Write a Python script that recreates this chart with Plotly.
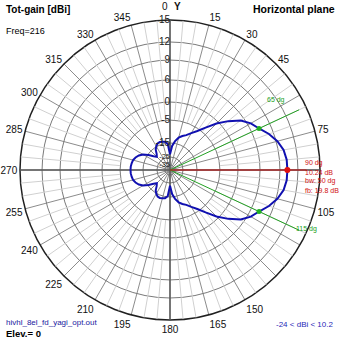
import numpy as np
import plotly.graph_objects as go

# ---------------- data ----------------
ANGLES_DEG = list(range(0, 360, 5))
GAIN_DBI = [
    -23.0, -17.0, -14.0, -12.2, -11.0, -10.0, -8.2, -6.0, -3.5, -0.6,
    2.2, 5.0, 6.5, 7.24, 8.3, 9.2, 9.9, 10.2, 10.24, 10.2,
    9.9, 9.2, 8.3, 7.24, 6.5, 5.0, 2.2, -0.6, -3.5, -6.0,
    -8.2, -10.0, -11.0, -12.2, -14.0, -17.0, -23.0, -15.5, -14.3, -14.0,
    -13.8, -14.0, -14.8, -16.5, -19.5, -21.0, -19.0, -15.5, -13.2, -11.8,
    -10.8, -10.1, -9.8, -9.6, -9.56, -9.6, -9.8, -10.1, -10.8, -11.8,
    -13.2, -15.5, -19.0, -21.0, -19.5, -16.5, -14.8, -14.0, -13.8, -14.0,
    -14.3, -15.5,
]
MAX_ANGLE = 90
MAX_GAIN = 10.24
BW_ANGLES = [65, 115]
BW_GAIN = 7.24

# radial scale of the chart (dBi -> relative radius), as drawn by the program
SCALE_DB = [-45, -35, -25, -15, -5, 0, 6, 9, 12, 15]
SCALE_REL = [0.0, 0.033, 0.087, 0.18, 0.333, 0.453, 0.6, 0.733, 0.853, 1.0]
RADIAL_TICKS = [15, 12, 9, 6, 0, -5, -15, -25, -35]

ANGLE_TICKS = list(range(0, 360, 15))
HIDDEN_ANGLE_LABELS = [0, 60, 90, 120, 135]
MINOR_SPOKES = [a for a in range(0, 360, 5) if a % 15 != 0]

RMAX = 150.0


def to_r(db):
    return np.interp(np.asarray(db, dtype=float), SCALE_DB, SCALE_REL) * RMAX


W = H = 339
FONT = "Liberation Sans, Arial"

fig = go.Figure()

# minor spokes (light)
mr, mt = [], []
for a in MINOR_SPOKES:
    mr += [float(to_r(-5)), RMAX, None]
    mt += [a, a, None]
fig.add_trace(go.Scatterpolar(r=mr, theta=mt, mode="lines",
                              line=dict(color="#d0d0d0", width=1),
                              hoverinfo="skip", showlegend=False, connectgaps=False))

# main axes (darker)
fig.add_trace(go.Scatterpolar(r=[RMAX, 0, RMAX, None, RMAX, 0, RMAX],
                              theta=[0, 0, 180, None, 90, 90, 270],
                              mode="lines", line=dict(color="#5a5a5a", width=1.5),
                              hoverinfo="skip", showlegend=False, connectgaps=False))

# beamwidth lines (green)
for a in BW_ANGLES:
    fig.add_trace(go.Scatterpolar(r=[0, RMAX * 0.95], theta=[a, a], mode="lines",
                                  line=dict(color="#22a022", width=1),
                                  hoverinfo="skip", showlegend=False))
# max direction (red)
fig.add_trace(go.Scatterpolar(r=[0, RMAX * 0.91], theta=[MAX_ANGLE, MAX_ANGLE], mode="lines",
                              line=dict(color="#d01010", width=1),
                              hoverinfo="skip", showlegend=False))

# pattern
th = ANGLES_DEG + [ANGLES_DEG[0]]
gv = GAIN_DBI + [GAIN_DBI[0]]
fig.add_trace(go.Scatterpolar(r=to_r(gv), theta=th, mode="lines",
                              line=dict(color="#1010b0", width=2),
                              hoverinfo="skip", showlegend=False))

# markers
fig.add_trace(go.Scatterpolar(r=to_r([BW_GAIN, BW_GAIN]), theta=BW_ANGLES, mode="markers",
                              marker=dict(color="#22b022", size=5),
                              hoverinfo="skip", showlegend=False))
fig.add_trace(go.Scatterpolar(r=to_r([MAX_GAIN]), theta=[MAX_ANGLE], mode="markers",
                              marker=dict(color="#e01010", size=6),
                              hoverinfo="skip", showlegend=False))

# radial tick labels, left of the 0-degree axis (inner ones a little smaller)
label_sizes = [10 if t > -25 else 7.5 for t in RADIAL_TICKS]
fig.add_trace(go.Scatterpolar(r=to_r(RADIAL_TICKS), theta=[0] * len(RADIAL_TICKS),
                              mode="text", text=[str(t) for t in RADIAL_TICKS],
                              textposition="middle left",
                              textfont=dict(family=FONT, size=label_sizes, color="#202020"),
                              hoverinfo="skip", showlegend=False))

ang_text = ["" if a in HIDDEN_ANGLE_LABELS else str(a) for a in ANGLE_TICKS]

cx, cy = 170, 170
fig.update_layout(
    width=W, height=H,
    margin=dict(l=0, r=0, t=0, b=0),
    paper_bgcolor="white",
    showlegend=False,
    polar=dict(
        domain=dict(x=[(cx - RMAX) / W, (cx + RMAX) / W],
                    y=[(H - cy - RMAX) / H, (H - cy + RMAX) / H]),
        bgcolor="white",
        radialaxis=dict(range=[0, RMAX], tickvals=list(to_r(RADIAL_TICKS)),
                        showticklabels=False, angle=90,
                        showline=False, ticks="", gridcolor="#7a7a7a", gridwidth=1,
                        layer="below traces"),
        angularaxis=dict(direction="clockwise", rotation=90,
                         tickmode="array", tickvals=ANGLE_TICKS, ticktext=ang_text,
                         showline=True, linecolor="#202020", linewidth=1.5,
                         gridcolor="#8c8c8c", gridwidth=1, ticks="",
                         tickfont=dict(family=FONT, size=10, color="#101010"),
                         layer="below traces"),
    ),
)


def px(x, y):
    return x / W, 1 - y / H


annots = [
    dict(text="0", x=165, y=6, xa="center", font=dict(family=FONT, size=10, color="#101010")),
    dict(text="<b>Y</b>", x=177, y=6, xa="center", font=dict(family=FONT, size=10, color="#101010")),
    dict(text="<b>Tot-gain [dBi]</b>", x=4, y=9, xa="left", font=dict(family=FONT, size=10, color="black")),
    dict(text="Freq=216", x=4, y=31, xa="left", font=dict(family=FONT, size=9, color="black")),
    dict(text="<b>Horizontal plane</b>", x=337, y=9, xa="right", font=dict(family=FONT, size=10.5, color="black")),
    dict(text="hivhl_8el_fd_yagi_opt.out", x=4, y=322, xa="left", font=dict(family=FONT, size=8, color="#2020a0")),
    dict(text="<b>Elev.= 0</b>", x=4, y=333, xa="left", font=dict(family=FONT, size=9.5, color="black")),
    dict(text="-24 < dBi < 10.2", x=335, y=324, xa="right", font=dict(family=FONT, size=8, color="#2828b8")),
    dict(text="90 dg", x=303, y=163, xa="left", font=dict(family=FONT, size=7, color="#d01010")),
    dict(text="10.24 dB", x=303, y=172, xa="left", font=dict(family=FONT, size=7, color="#d01010")),
    dict(text="bw: 50 dg", x=303, y=181, xa="left", font=dict(family=FONT, size=7, color="#d01010")),
    dict(text="fb: 19.8 dB", x=303, y=190, xa="left", font=dict(family=FONT, size=7, color="#d01010")),
    dict(text="65 dg", x=265, y=100, xa="left", font=dict(family=FONT, size=7, color="#22a022")),
    dict(text="115 dg", x=294, y=229, xa="left", font=dict(family=FONT, size=7, color="#22a022")),
]
for a in annots:
    xx, yy = px(a["x"], a["y"])
    fig.add_annotation(text=a["text"], x=xx, y=yy, xref="paper", yref="paper",
                       xanchor=a["xa"], yanchor="middle", showarrow=False, font=a["font"])

fig.write_html("out.html")
